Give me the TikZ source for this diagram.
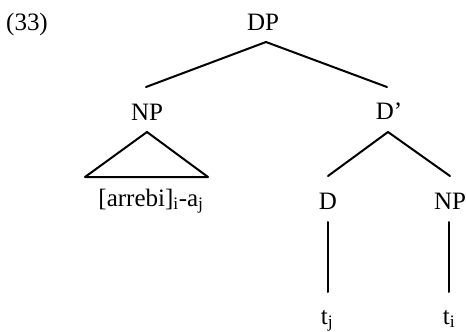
\documentclass[tikz,border=0pt]{standalone}
\usepackage{fontspec}
\setmainfont{Liberation Serif}
\begin{document}
\begin{tikzpicture}[x=1pt,y=-1pt,
  lbl/.style={anchor=base,inner sep=0pt,font=\fontsize{25}{29}\selectfont},
  edge/.style={line width=2pt,line cap=round,line join=round}]
\useasboundingbox (0,0) rectangle (466,332);
\node[lbl] (ex) at (27,30) {(33)};
\node[lbl] (DP) at (263,30) {DP};
\node[lbl] (NP) at (147,120) {NP};
\node[lbl] (Dbar) at (389,119) {D’};
\node[lbl] (lab) at (151,206) {[arrebi]\textsubscript{i}-a\textsubscript{j}};
\node[lbl] (D) at (328,209) {D};
\node[lbl] (NPr) at (450,209) {NP};
\node[lbl] (tj) at (327,324) {t\textsubscript{j}};
\node[lbl] (ti) at (449,324) {t\textsubscript{i}};
\draw[edge] ([shift={(-1,-33)}]NP.base) -- ([shift={(3,12)}]DP.base) -- ([shift={(-2,-32)}]Dbar.base);
\draw[edge] ([shift={(0,-33)}]D.base) -- ([shift={(-1,13)}]Dbar.base) -- ([shift={(0,-33)}]NPr.base);
\draw[edge] ([shift={(0,12)}]NP.base) -- ([shift={(-66,-29)}]lab.base) -- ([shift={(57,-29)}]lab.base) -- cycle;
\draw[edge] ([shift={(0,13)}]D.base) -- ([shift={(1,-32)}]tj.base);
\draw[edge] ([shift={(-1,13)}]NPr.base) -- ([shift={(0,-32)}]ti.base);
\end{tikzpicture}
\end{document}
